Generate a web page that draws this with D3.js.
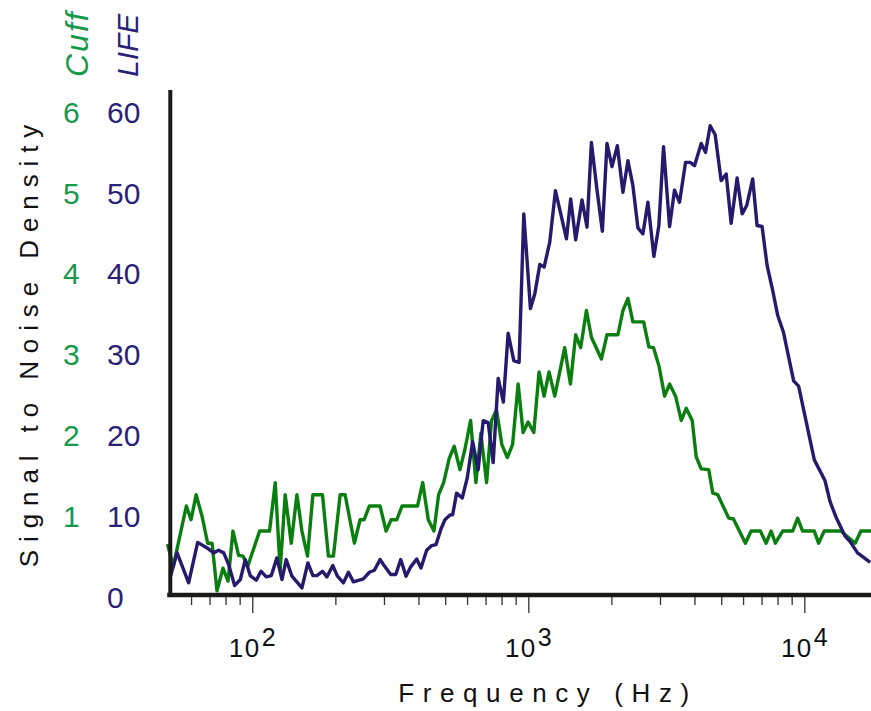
<!DOCTYPE html>
<html><head><meta charset="utf-8">
<script src="https://cdn.jsdelivr.net/npm/d3@7"></script>
<style>body{margin:0;background:#fff} svg{display:block}</style>
</head><body><svg id="c" width="871" height="711"></svg>
<script>
// Cuff electrode (green, right-hand numbers 0-6)
const cuffFreq = [49.3, 51.7, 57.7, 60.0, 62.6, 65.8, 68.9, 71.5, 74.5, 78.3,
  81.7, 85.1, 89.2, 92.6, 96.2, 106.3, 115.5, 121.1, 126.2, 131.6,
  138.4, 145.1, 151.3, 158.5, 165.8, 179.6, 188.7, 196.8, 208.1, 216.9,
  234.4, 245.8, 254.2, 265.6, 290.4, 305.3, 318.3, 333.8, 348.8, 396.8,
  414.4, 434.1, 455.1, 473.3, 493.5, 517.1, 539.0, 565.2, 589.2, 618.0,
  645.8, 673.2, 706.0, 736.0, 767.4, 802.1, 839.5, 877.0, 918.7, 957.8,
  998.3, 1047, 1094, 1141, 1189, 1247, 1355, 1421, 1485, 1548,
  1624, 1693, 1840, 1928, 2112, 2202, 2296, 2393, 2617, 2734,
  2843, 2977, 3117, 3250, 3416, 3582, 3734, 3925, 4058, 4231,
  4507, 4660, 4858, 5107, 5324, 5537, 6118, 6416, 6934, 7271,
  7580, 7856, 8347, 9073, 9459, 9858, 10870, 11260, 11810, 13570,
  15290, 16030, 17330, 20000];
const cuffSNR = [0.65, 0.37, 1.12, 0.95, 1.26, 0.99, 0.66, 0.66, 0.07, 0.35,
  0.19, 0.81, 0.51, 0.50, 0.37, 0.81, 0.81, 1.41, 0.33, 1.26,
  0.66, 1.26, 0.81, 0.50, 1.26, 1.26, 0.50, 0.50, 1.26, 1.26,
  0.66, 0.95, 0.95, 1.12, 1.12, 0.81, 0.95, 0.95, 1.12, 1.12,
  1.41, 0.95, 0.81, 1.26, 1.41, 1.71, 1.86, 1.57, 1.82, 2.18,
  1.41, 2.02, 1.41, 2.18, 2.31, 1.88, 1.72, 1.88, 2.63, 2.03,
  2.16, 2.03, 2.78, 2.48, 2.78, 2.48, 3.08, 2.63, 3.24, 3.08,
  3.54, 3.21, 2.94, 3.24, 3.24, 3.54, 3.69, 3.40, 3.40, 3.09,
  3.08, 2.85, 2.48, 2.63, 2.48, 2.18, 2.33, 2.18, 1.73, 1.58,
  1.57, 1.28, 1.26, 1.10, 0.97, 0.96, 0.66, 0.81, 0.81, 0.66,
  0.81, 0.66, 0.81, 0.81, 0.97, 0.81, 0.81, 0.66, 0.81, 0.81,
  0.66, 0.81, 0.81, 0.81];

// LIFE electrode (navy, numbers 0-60)
const lifeFreq = [50.5, 53.4, 58.8, 63.4, 68.6, 72.4, 75.5, 78.8, 82.1, 86.3,
  90.5, 94.3, 98.3, 103.4, 107.5, 112.4, 117.2, 122.8, 128.1, 132.7,
  139.2, 151.3, 159.0, 165.8, 171.4, 179.6, 186.3, 195.8, 203.5, 213.9,
  223.0, 232.5, 252.6, 265.6, 276.9, 290.4, 302.7, 317.4, 331.0, 345.0,
  360.6, 375.0, 394.1, 408.5, 428.3, 446.6, 463.0, 482.6, 498.9, 520.1,
  532.0, 549.9, 576.2, 600.7, 628.4, 658.2, 686.3, 715.5, 746.0, 777.8,
  812.2, 845.2, 886.5, 926.2, 963.1, 1018, 1056, 1101, 1141, 1196,
  1254, 1311, 1375, 1424, 1485, 1565, 1632, 1693, 1774, 1855,
  1928, 2010, 2102, 2202, 2296, 2393, 2495, 2602, 2712, 2851,
  2972, 3090, 3250, 3387, 3531, 3712, 3860, 4001, 4231, 4385,
  4560, 4754, 4996, 5211, 5432, 5709, 5953, 6185, 6501, 6743,
  7031, 7331, 7681, 8008, 8398, 9148, 9537, 10870, 11880, 12390,
  13020, 14070, 14630, 15590, 17330];
const lifeSNR = [2.47, 5.40, 1.69, 6.70, 6.01, 5.40, 5.72, 5.40, 3.95, 1.36,
  2.10, 4.57, 2.59, 2.01, 3.12, 2.43, 2.59, 4.78, 2.10, 4.57,
  2.51, 1.07, 4.16, 2.59, 2.59, 3.12, 2.43, 3.83, 2.51, 1.69,
  3.00, 1.81, 2.19, 3.00, 3.25, 4.57, 3.67, 2.72, 2.72, 4.57,
  2.51, 3.67, 4.65, 3.54, 5.72, 6.30, 6.42, 8.36, 9.51, 10.09,
  10.12, 12.80, 12.19, 14.65, 19.17, 15.68, 21.77, 21.52, 16.58, 27.00,
  24.07, 32.59, 29.17, 28.98, 47.37, 35.64, 37.49, 41.11, 40.78, 43.86,
  50.25, 47.37, 44.28, 49.22, 44.16, 49.10, 45.72, 56.21, 50.33, 45.22,
  56.09, 53.21, 55.80, 50.04, 53.95, 50.86, 45.64, 44.90, 48.80, 42.10,
  45.93, 55.68, 45.80, 50.31, 48.80, 53.74, 53.74, 53.33, 56.09, 54.98,
  58.27, 57.16, 51.48, 52.31, 46.21, 51.81, 47.37, 48.40, 51.69, 45.93,
  45.80, 40.99, 37.90, 34.81, 32.75, 26.70, 26.05, 16.91, 14.36, 11.77,
  9.84, 7.44, 6.83, 5.40, 4.23];

const lifeTicks = [0, 10, 20, 30, 40, 50, 60];
const cuffTicks = [1, 2, 3, 4, 5, 6];
const majorTicks = [100, 1000, 10000];
const majorExponents = ["2", "3", "4"];
const minorTicks = [60, 70, 80, 90, 200, 300, 400, 500, 600, 700, 800, 900,
  2000, 3000, 4000, 5000, 6000, 7000, 8000, 9000];

const GREEN = "#0a7f0f", NAVY = "#261a6c";
const GREEN_TXT = "#16994a", NAVY_TXT = "#2b2177";
const FONT = "'Liberation Sans', Arial, sans-serif";

const svg = d3.select("#c");
const x = d3.scaleLog().domain([50, 20000]).range([169.2, 887.4]);
const yLife = d3.scaleLinear().domain([0, 62.7]).range([596.5, 90]);
const yCuff = d3.scaleLinear().domain([0, 6.27]).range([596.5, 90]);

// lines
const cuffPts = cuffFreq.map((f, i) => [f, cuffSNR[i]]);
const lifePts = lifeFreq.map((f, i) => [f, lifeSNR[i]]);
svg.append("path").datum(cuffPts)
  .attr("fill", "none").attr("stroke", GREEN).attr("stroke-width", 3.4)
  .attr("stroke-linejoin", "round")
  .attr("d", d3.line().x(d => x(d[0])).y(d => yCuff(d[1])));
svg.append("path").datum(lifePts)
  .attr("fill", "none").attr("stroke", NAVY).attr("stroke-width", 3.4)
  .attr("stroke-linejoin", "round")
  .attr("d", d3.line().x(d => x(d[0])).y(d => yLife(d[1])));

// x axis
const xAxisG = svg.append("g").attr("transform", "translate(0,595)")
  .call(d3.axisBottom(x).tickValues(majorTicks.concat(minorTicks))
    .tickSizeOuter(0).tickFormat(""));
xAxisG.select(".domain").attr("stroke", "#1b1a18").attr("stroke-width", 4.5)
  .attr("d", `M${x(50) - 2},0H871`);
xAxisG.selectAll(".tick line")
  .attr("stroke", "#333").attr("stroke-width", 1.3)
  .attr("y1", 2)
  .attr("y2", d => majorTicks.includes(d) ? 18 : 10);

// x tick labels 10^n
const lab = svg.append("g");
majorTicks.forEach((t, i) => {
  const tx = lab.append("text").attr("x", x(t)).attr("y", 657)
    .attr("text-anchor", "middle").attr("font-family", FONT)
    .attr("font-size", 26).attr("fill", "#111");
  tx.append("tspan").attr("letter-spacing", 1.5).text("10");
  tx.append("tspan").attr("dy", -11).attr("dx", 1).attr("font-size", 25).text(majorExponents[i]);
});

// y axis line
const yAxisG = svg.append("g").attr("transform", "translate(170.3,0)")
  .call(d3.axisLeft(yLife).tickValues([]).tickSizeOuter(0));
yAxisG.select(".domain").attr("stroke", "#1b1a18").attr("stroke-width", 4)
  .attr("d", `M0,${yLife(62.7)}V597`);

// y tick labels
svg.append("g").selectAll("text").data(lifeTicks).join("text")
  .attr("x", 107).attr("y", d => yLife(d) + 11)
  .attr("font-family", FONT).attr("font-size", 30).attr("fill", NAVY_TXT)
  .text(d => d);
svg.append("g").selectAll("text").data(cuffTicks).join("text")
  .attr("x", 63).attr("y", d => yCuff(d) + 11)
  .attr("font-family", FONT).attr("font-size", 30).attr("fill", GREEN_TXT)
  .text(d => d);

// series titles (rotated)
svg.append("text").attr("transform", "translate(88,77) rotate(-90)")
  .attr("font-family", FONT).attr("font-size", 32).attr("font-style", "italic")
  .attr("letter-spacing", 2).attr("fill", GREEN_TXT).text("Cuff");
svg.append("text").attr("transform", "translate(138,77) rotate(-90)")
  .attr("font-family", FONT).attr("font-size", 30).attr("font-style", "italic")
  .attr("fill", NAVY_TXT).text("LIFE");

// axis titles
svg.append("text").attr("transform", "translate(38,342) rotate(-90)")
  .attr("text-anchor", "middle").attr("font-family", FONT).attr("font-size", 26)
  .attr("letter-spacing", 7.9).attr("fill", "#111").text("Signal to Noise Density");
svg.append("text").attr("x", 548).attr("y", 702)
  .attr("text-anchor", "middle").attr("font-family", FONT).attr("font-size", 26)
  .attr("letter-spacing", 8.6).attr("fill", "#111").text("Frequency (Hz)");
</script></body></html>
